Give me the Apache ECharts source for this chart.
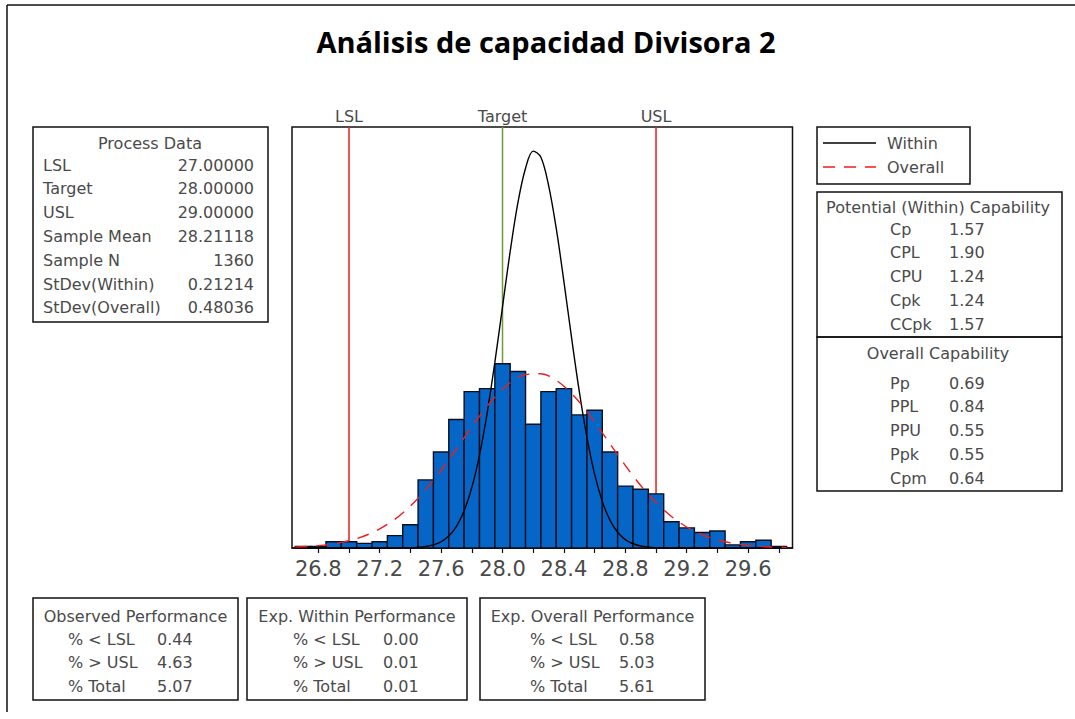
<!DOCTYPE html>
<html><head><meta charset="utf-8">
<script src="https://cdn.jsdelivr.net/npm/echarts@6/dist/echarts.min.js"></script>
<style>html,body{margin:0;padding:0;background:#fff}#c{width:1075px;height:719px}</style>
</head><body><div id="c"></div>
<script>
// ---------------- data ----------------
const titleText = 'Análisis de capacidad Divisora 2';

const binCenters = [26.7, 26.8, 26.9, 27.0, 27.1, 27.2, 27.3, 27.4, 27.5, 27.6, 27.7, 27.8, 27.9, 28.0, 28.1, 28.2,
                    28.3, 28.4, 28.5, 28.6, 28.7, 28.8, 28.9, 29.0, 29.1, 29.2, 29.3, 29.4, 29.5, 29.6, 29.7, 29.8];
const binCounts  = [1, 1, 4, 4, 3, 4, 8, 15, 44, 62, 83, 101, 103, 119, 114, 80,
                    101, 103, 86, 89, 62, 40, 38, 35, 17, 13, 10, 11, 2, 4, 5, 1];
const binWidth = 0.1;

// fitted "Within" normal curve (counts per bin)
const withinX = [26.65, 27.30, 27.35, 27.40, 27.45, 27.50, 27.55, 27.60, 27.65, 27.70, 27.75, 27.80, 27.85,
                 27.90, 27.95, 28.00, 28.05, 28.10, 28.15, 28.20, 28.25, 28.30, 28.35, 28.40, 28.45, 28.50,
                 28.55, 28.60, 28.65, 28.70, 28.75, 28.80, 28.85, 28.90, 28.95, 29.00, 29.05, 29.10, 29.85];
const withinY = [0, 0.03, 0.07, 0.17, 0.41, 0.93, 1.99, 4.03, 7.73, 14.03, 24.08, 39.09, 60.03,
                 87.21, 119.87, 155.83, 191.63, 222.94, 245.34, 256.4, 252.5, 234.30, 206.47, 172.12, 135.72, 101.24,
                 71.44, 47.68, 30.11, 17.98, 10.16, 5.43, 2.75, 1.31, 0.59, 0.25, 0.10, 0.04, 0];

// fitted "Overall" normal curve
const overallX = [26.65, 26.75, 26.85, 26.95, 27.05, 27.15, 27.25, 27.35, 27.45, 27.55, 27.65, 27.75, 27.85,
                  27.95, 28.05, 28.15, 28.25, 28.35, 28.45, 28.55, 28.65, 28.75, 28.85, 28.95, 29.05, 29.15,
                  29.25, 29.35, 29.45, 29.55, 29.65, 29.75, 29.85];
const overallY = [0.57, 1.11, 2.04, 3.60, 6.08, 9.85, 15.26, 22.64, 32.18, 43.80, 57.08, 71.24, 85.14,
                  97.43, 106.77, 112.04, 112.58, 108.33, 99.82, 88.07, 74.41, 60.21, 46.65, 34.61, 24.59, 16.73,
                  10.90, 6.80, 4.06, 2.32, 1.27, 0.67, 0.34];

const specNames  = ['LSL', 'Target', 'USL'];
const specValues = [27.0, 28.0, 29.0];

const xTickValues  = [26.8, 27.0, 27.2, 27.4, 27.6, 27.8, 28.0, 28.2, 28.4, 28.6, 28.8, 29.0, 29.2, 29.4, 29.6, 29.8];
const xLabelValues = [26.8, 27.2, 27.6, 28.0, 28.4, 28.8, 29.2, 29.6];

const legendNames = ['Within', 'Overall'];

const processTitle  = 'Process Data';
const processLabels = ['LSL', 'Target', 'USL', 'Sample Mean', 'Sample N', 'StDev(Within)', 'StDev(Overall)'];
const processValues = ['27.00000', '28.00000', '29.00000', '28.21118', '1360', '0.21214', '0.48036'];

const potentialTitle  = 'Potential (Within) Capability';
const potentialLabels = ['Cp', 'CPL', 'CPU', 'Cpk', 'CCpk'];
const potentialValues = ['1.57', '1.90', '1.24', '1.24', '1.57'];

const overallCapTitle  = 'Overall Capability';
const overallCapLabels = ['Pp', 'PPL', 'PPU', 'Ppk', 'Cpm'];
const overallCapValues = ['0.69', '0.84', '0.55', '0.55', '0.64'];

const perfTitles = ['Observed Performance', 'Exp. Within Performance', 'Exp. Overall Performance'];
const perfLabels = ['% < LSL', '% > USL', '% Total'];
const perfValues = [['0.44', '4.63', '5.07'], ['0.00', '0.01', '0.01'], ['0.58', '5.03', '5.61']];

// ---------------- styling / layout ----------------
const FONT = "'DejaVu Sans', 'Open Sans', sans-serif";
const TITLE_FONT = "'Open Sans', 'DejaVu Sans', sans-serif";
const TXT = '#4a4a4a';
const RED = '#ee1c1c';
const GREEN = '#6e9a3e';
const BAR = '#0566c8';
const Y_MAX = 272;

function txt(text, x, y, align, size) {
  return {
    type: 'text', silent: true,
    style: { text: text, x: x, y: y, align: align || 'left', verticalAlign: 'middle',
             fontFamily: FONT, fontSize: size || 16, fontWeight: 'normal', fill: TXT }
  };
}
function box(x, y, w, h) {
  return { type: 'rect', silent: true, shape: { x: x, y: y, width: w, height: h },
           style: { fill: 'none', stroke: '#111', lineWidth: 1.5 } };
}
function line(x1, y1, x2, y2, stroke, w, dash) {
  return { type: 'line', silent: true, shape: { x1: x1, y1: y1, x2: x2, y2: y2 },
           style: { stroke: stroke, lineWidth: w || 1.5, lineDash: dash || null } };
}

const g = [];
// outer frame (top + left)
g.push(line(7, 5, 1075, 5, '#111', 1.5));
g.push(line(7, 5, 7, 712, '#111', 1.5));
// title
g.push({ type: 'text', silent: true, style: { text: titleText, x: 546, y: 41, align: 'center', verticalAlign: 'middle',
          fontFamily: TITLE_FONT, fontSize: 29, fontWeight: 'bold', fill: '#000' } });

// Process data box
g.push(box(33, 127, 235, 195));
g.push(txt(processTitle, 150, 143, 'center'));
processLabels.forEach(function (l, i) {
  const y = 165 + i * 23.8;
  g.push(txt(l, 43, y, 'left'));
  g.push(txt(processValues[i], 254, y, 'right'));
});

// legend box
g.push(box(817, 127, 153, 57));
g.push(line(823, 143, 876, 143, '#000', 1.3));
g.push(txt(legendNames[0], 887, 143, 'left'));
g.push(line(823, 167, 876, 167, RED, 1.3, [12, 9]));
g.push(txt(legendNames[1], 887, 167, 'left'));

// potential capability box
g.push(box(817, 192, 245, 145));
g.push(txt(potentialTitle, 938, 207, 'center'));
potentialLabels.forEach(function (l, i) {
  const y = 229 + i * 23.8;
  g.push(txt(l, 890, y, 'left'));
  g.push(txt(potentialValues[i], 949, y, 'left'));
});
// overall capability box
g.push(box(817, 337, 245, 154));
g.push(txt(overallCapTitle, 938, 353, 'center'));
overallCapLabels.forEach(function (l, i) {
  const y = 383 + i * 23.8;
  g.push(txt(l, 890, y, 'left'));
  g.push(txt(overallCapValues[i], 949, y, 'left'));
});

// performance boxes
const perfBoxes = [
  { x: 33, w: 205, lx: 68, vx: 157 },
  { x: 247, w: 220, lx: 293, vx: 383 },
  { x: 480, w: 225, lx: 530, vx: 619 }
];
perfBoxes.forEach(function (b, k) {
  g.push(box(b.x, 598, b.w, 102));
  g.push(txt(perfTitles[k], b.x + b.w / 2, 616, 'center'));
  perfLabels.forEach(function (l, i) {
    const y = 639 + i * 23.5;
    g.push(txt(l, b.lx, y, 'left'));
    g.push(txt(perfValues[k][i], b.vx, y, 'left'));
  });
});

// ---------------- chart ----------------
const chart = echarts.init(document.getElementById('c'), null, { renderer: 'svg' });
chart.setOption({
  animation: false,
  backgroundColor: '#fff',
  grid: { left: 292, top: 127, width: 500.5, height: 421, show: true, borderColor: '#111', borderWidth: 1.5,
          containLabel: false },
  xAxis: {
    type: 'value', min: 26.6287, max: 29.889,
    splitLine: { show: false },
    axisLine: { show: true, onZero: false, lineStyle: { color: '#111', width: 1.5 } },
    axisTick: { show: true, length: 5, lineStyle: { color: '#111', width: 1.2 }, customValues: xTickValues },
    axisLabel: { show: true, customValues: xLabelValues, margin: 10, fontSize: 21, fontFamily: FONT,
                 color: TXT, formatter: function (v) { return Number(v).toFixed(1); } }
  },
  yAxis: { type: 'value', min: 0, max: Y_MAX, show: false, splitLine: { show: false } },
  graphic: g,
  series: [
    {
      type: 'custom', z: 1, silent: true,
      data: specValues.map(function (v, i) { return [v, i]; }),
      renderItem: function (params, api) {
        const v = api.value(0), i = api.value(1);
        const top = api.coord([v, Y_MAX]);
        const bot = api.coord([v, 0]);
        return { type: 'group', children: [
          { type: 'line', shape: { x1: top[0], y1: top[1], x2: bot[0], y2: bot[1] },
            style: { stroke: i === 1 ? GREEN : RED, lineWidth: 1.5 } },
          { type: 'text', style: { text: specNames[i], x: top[0], y: top[1] - 11, align: 'center', verticalAlign: 'middle',
            fontFamily: FONT, fontSize: 16, fill: TXT } }
        ] };
      }
    },
    {
      type: 'custom', z: 2, silent: true,
      data: binCenters.map(function (c, i) { return [c, binCounts[i]]; }),
      renderItem: function (params, api) {
        const c = api.value(0), n = api.value(1);
        const p0 = api.coord([c - binWidth / 2, n]);
        const p1 = api.coord([c + binWidth / 2, 0]);
        return { type: 'rect', shape: { x: p0[0], y: p0[1], width: p1[0] - p0[0], height: p1[1] - p0[1] },
                 style: { fill: BAR, stroke: '#0a0f1e', lineWidth: 1.4 } };
      }
    },
    {
      name: legendNames[0], type: 'line', z: 3, silent: true, showSymbol: false, smooth: 0.35,
      data: withinX.map(function (x, i) { return [x, withinY[i]]; }),
      lineStyle: { color: '#000', width: 1.4 }
    },
    {
      name: legendNames[1], type: 'line', z: 4, silent: true, showSymbol: false, smooth: 0.35,
      data: overallX.map(function (x, i) { return [x, overallY[i]]; }),
      lineStyle: { color: RED, width: 1.4, type: [12, 9] }
    }
  ]
});
</script>
</body></html>
